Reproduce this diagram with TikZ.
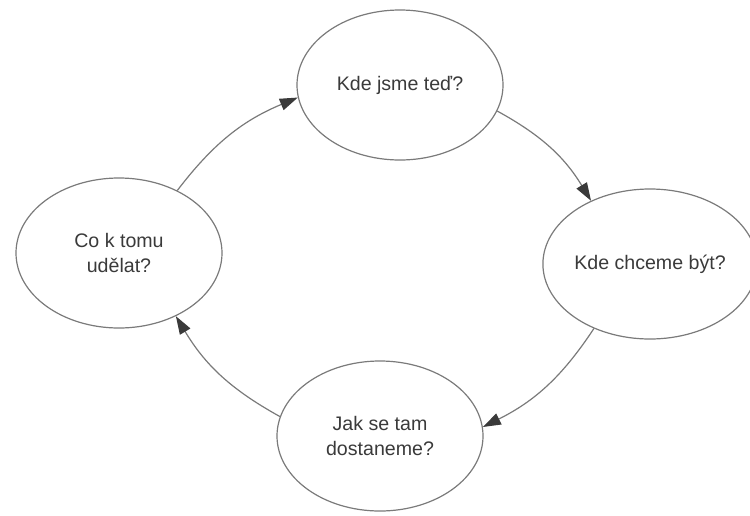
\documentclass[tikz,border=0pt]{standalone}
\usepackage{fontspec}
\setmainfont{Liberation Sans}
\usetikzlibrary{shapes.geometric,arrows.meta}
\definecolor{ink}{HTML}{3A3A3A}
\definecolor{rim}{HTML}{7A7A7A}

\begin{document}
\begin{tikzpicture}[x=0.5pt,y=-0.5pt,
      q/.style={ellipse,draw=rim,line width=0.6pt,align=center,text=ink,
                font=\fontsize{9.8}{12.5}\selectfont,inner sep=0pt,
                minimum width=103pt,minimum height=75pt},
      c/.style={draw=rim,line width=0.6pt,-{Triangle[length=9pt,width=6pt,color=ink]}}]
    \useasboundingbox (0,0) rectangle (750,515);
    \node[q](now) at (400,85){Kde jsme teď?};
    \node[q](goal) at (650,264){Kde chceme být?};
    \node[q](way) at (380,436){Jak se tam\\dostaneme?};
    \node[q](act) at (119,253){Co k tomu\\udělat?};
    \draw[c](act.47) to[bend left=15] (now.187);
    \draw[c](now.345) to[bend left=15] (goal.133);
    \draw[c](goal.229) to[bend left=15] (way.5);
    \draw[c](way.169) to[bend left=15] (act.312);
  \end{tikzpicture}
\end{document}
